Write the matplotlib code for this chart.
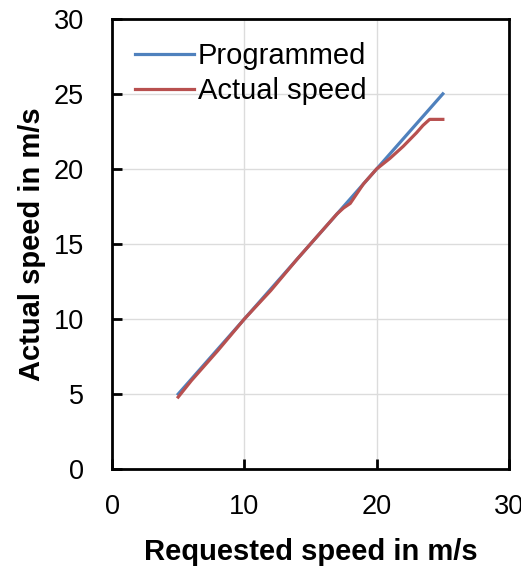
import matplotlib.pyplot as plt

plt.rcParams['font.family'] = ['Liberation Sans', 'DejaVu Sans']

# Requested speed (m/s)
requested = [5, 10, 15, 20, 25]
programmed = [5, 10, 15, 20, 25]

actual_x = [5, 6, 8, 10, 12, 14, 16, 17, 17.5, 18, 19, 20, 21, 22, 23, 23.5, 24, 25]
actual_y = [4.8, 5.9, 7.9, 10.0, 11.9, 14.0, 16.0, 17.0, 17.4, 17.7, 19.0, 20.0, 20.7, 21.5, 22.4, 22.9, 23.3, 23.3]

fig = plt.figure(figsize=(5.21, 5.70), dpi=100)
ax = fig.add_axes([0.215, 0.177, 0.762, 0.79])

ax.plot(requested, programmed, color='#4f81bd', lw=2.3, label='Programmed')
ax.plot(actual_x, actual_y, color='#b8504f', lw=2.3, label='Actual speed')

ax.set_xlim(0, 30)
ax.set_ylim(0, 30)
ax.set_xticks([0, 10, 20, 30])
ax.set_yticks([0, 5, 10, 15, 20, 25, 30])
ax.grid(True, color='#dcdcdc', lw=1)
ax.tick_params(direction='in', labelsize=19.5, length=7, width=2)
ax.tick_params(axis='y', pad=20)
ax.tick_params(axis='x', pad=18)
for s in ax.spines.values():
    s.set_linewidth(2)

ax.set_xlabel('Requested speed in m/s', fontsize=21, fontweight='bold', labelpad=13)
ax.set_ylabel('Actual speed in m/s', fontsize=21, fontweight='bold', labelpad=6)

ax.legend(loc='upper left', frameon=False, fontsize=21, handlelength=2.0,
          handletextpad=0.15, borderaxespad=0.4, borderpad=0.4, labelspacing=0.25)

plt.savefig('out.png', dpi=100)
